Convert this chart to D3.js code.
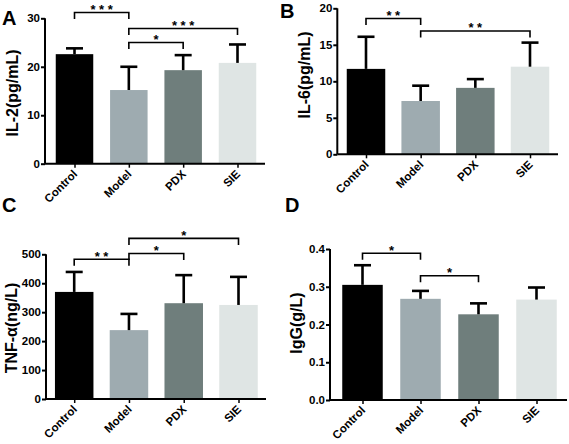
<!DOCTYPE html>
<html>
<head>
<meta charset="utf-8">
<script src="https://cdn.jsdelivr.net/npm/d3@7/dist/d3.min.js"></script>
<style>
  html, body { margin: 0; padding: 0; background: #fff; }
  svg { display: block; font-family: "Liberation Sans", Arial, sans-serif; }
  svg text { font-family: "Liberation Sans", Arial, sans-serif; }
</style>
</head>
<body>
<svg id="chart" width="569" height="444"></svg>
<script>
// ---------- data ----------
const categories = ["Control", "Model", "PDX", "SIE"];

const il2Means = [22.6, 15.2, 19.3, 20.8];
const il2Errors = [1.2, 4.8, 3.1, 3.8];
const il2Ticks = [0, 10, 20, 30];
const il2Sig = [ [0, 1, "* * *", 31.2], [1, 3, "* * *", 27.9], [1, 2, "*", 25.0] ];

const il6Means = [11.7, 7.3, 9.1, 12.0];
const il6Errors = [4.4, 2.1, 1.2, 3.3];
const il6Ticks = [0, 5, 10, 15, 20];
const il6Sig = [ [0, 1, "* *", 18.6], [1, 3, "* *", 16.9] ];

const tnfMeans = [370, 238, 331, 325];
const tnfErrors = [69, 56, 97, 97];
const tnfTicks = [0, 100, 200, 300, 400, 500];
const tnfSig = [ [0, 1, "* *", 483], [1, 2, "*", 503], [1, 3, "*", 555] ];

const iggMeans = [0.305, 0.268, 0.227, 0.266];
const iggErrors = [0.052, 0.021, 0.029, 0.032];
const iggTicks = [0.0, 0.1, 0.2, 0.3, 0.4];
const iggSig = [ [0, 1, "*", 0.3886], [1, 2, "*", 0.3293] ];

const barColors = ["#000000", "#9eabb0", "#6f7e7c", "#dfe5e4"];

// ---------- drawing ----------
const svg = d3.select("#chart");
const FONT = "'Liberation Sans', Arial, sans-serif";

function panel(opts) {
  const { letter, letterPos, title, titlePos, means, errors, ticks, sig, fmt,
          axisX, axisEnd, yTop, yBottom, centers, barW } = opts;
  const g = svg.append("g");
  const yMax = ticks[ticks.length - 1];
  const y = d3.scaleLinear().domain([0, yMax]).range([yBottom, yTop]);
  const x = d3.scalePoint().domain(categories).range(centers);

  // bars
  g.selectAll("rect.bar").data(categories).join("rect")
    .attr("class", "bar")
    .attr("x", d => x(d) - barW / 2)
    .attr("width", barW)
    .attr("y", (d, i) => y(means[i]))
    .attr("height", (d, i) => y(0) - y(means[i]))
    .attr("fill", (d, i) => barColors[i]);

  // error bars (upper only)
  const eb = g.selectAll("g.err").data(categories).join("g").attr("class", "err");
  eb.append("line")
    .attr("x1", d => x(d)).attr("x2", d => x(d))
    .attr("y1", (d, i) => y(means[i]))
    .attr("y2", (d, i) => y(means[i] + errors[i]))
    .attr("stroke", "#000").attr("stroke-width", 2.6);
  eb.append("line")
    .attr("x1", d => x(d) - 8.5).attr("x2", d => x(d) + 8.5)
    .attr("y1", (d, i) => y(means[i] + errors[i]))
    .attr("y2", (d, i) => y(means[i] + errors[i]))
    .attr("stroke", "#000").attr("stroke-width", 2.6);

  // y axis
  const yAxis = d3.axisLeft(y).tickValues(ticks).tickSize(4).tickPadding(1).tickFormat(fmt);
  const ya = g.append("g").attr("transform", `translate(${axisX},0)`).call(yAxis);
  ya.attr("font-family", FONT);
  ya.select(".domain").attr("stroke", "#000").attr("stroke-width", 2)
    .attr("d", `M0,${yTop}V${yBottom}`);
  ya.selectAll(".tick line").attr("stroke", "#000").attr("stroke-width", 2);
  ya.selectAll(".tick text").attr("font-size", 11.5).attr("font-weight", "bold")
    .attr("fill", "#000");

  // x axis
  const xAxis = d3.axisBottom(x).tickSize(4).tickFormat("");
  const xa = g.append("g").attr("transform", `translate(0,${yBottom})`).call(xAxis);
  xa.attr("font-family", FONT);
  xa.select(".domain").attr("stroke", "#000").attr("stroke-width", 2)
    .attr("d", `M${axisX},0H${axisEnd}`);
  xa.selectAll(".tick line").attr("stroke", "#000").attr("stroke-width", 1.5);
  xa.selectAll(".tick").append("text")
    .attr("transform", "translate(3,11) rotate(-45)")
    .attr("text-anchor", "end")
    .attr("font-size", 11.5).attr("font-weight", "bold").attr("fill", "#000")
    .text(d => d);

  // significance brackets
  sig.forEach(([a, b, label, level]) => {
    const x1 = x(categories[a]), x2 = x(categories[b]);
    const yy = y(level);
    g.append("path")
      .attr("d", `M${x1},${yy + 6.5}V${yy}H${x2}V${yy + 6.5}`)
      .attr("fill", "none").attr("stroke", "#000").attr("stroke-width", 1.6);
    g.append("text")
      .attr("x", (x1 + x2) / 2).attr("y", yy + 1.5)
      .attr("text-anchor", "middle")
      .attr("font-family", FONT)
      .attr("font-size", 13).attr("font-weight", "bold")
      .style("white-space", "pre")
      .text(label);
  });

  // y title
  g.append("text")
    .attr("transform", `translate(${titlePos[0]},${titlePos[1]}) rotate(-90)`)
    .attr("text-anchor", "middle")
    .attr("font-family", FONT)
    .attr("font-size", 16).attr("font-weight", "bold")
    .text(title);

  // panel letter
  g.append("text")
    .attr("x", letterPos[0]).attr("y", letterPos[1])
    .attr("font-family", FONT)
    .attr("font-size", 20).attr("font-weight", "bold")
    .text(letter);
}

panel({ letter: "A", letterPos: [2, 25], title: "IL-2(pg/mL)", titlePos: [18, 93],
  means: il2Means, errors: il2Errors, ticks: il2Ticks, sig: il2Sig, fmt: d3.format("d"),
  axisX: 45, axisEnd: 265, yTop: 18.3, yBottom: 163.7,
  centers: [74.5, 237.5], barW: 37.5 });

panel({ letter: "B", letterPos: [280, 18], title: "IL-6(pg/mL)", titlePos: [310, 75],
  means: il6Means, errors: il6Errors, ticks: il6Ticks, sig: il6Sig, fmt: d3.format("d"),
  axisX: 337.3, axisEnd: 558, yTop: 8.3, yBottom: 154.3,
  centers: [366, 530], barW: 38.5 });

panel({ letter: "C", letterPos: [2, 212], title: "TNF-α(ng/L)", titlePos: [16.5, 328],
  means: tnfMeans, errors: tnfErrors, ticks: tnfTicks, sig: tnfSig, fmt: d3.format("d"),
  axisX: 46, axisEnd: 266, yTop: 254.3, yBottom: 399,
  centers: [74.2, 238.5], barW: 38.5 });

panel({ letter: "D", letterPos: [285, 212], title: "IgG(g/L)", titlePos: [302, 323],
  means: iggMeans, errors: iggErrors, ticks: iggTicks, sig: iggSig, fmt: d3.format(".1f"),
  axisX: 330, axisEnd: 567, yTop: 249, yBottom: 400,
  centers: [362.5, 536.5], barW: 40.5 });
</script>
</body>
</html>
